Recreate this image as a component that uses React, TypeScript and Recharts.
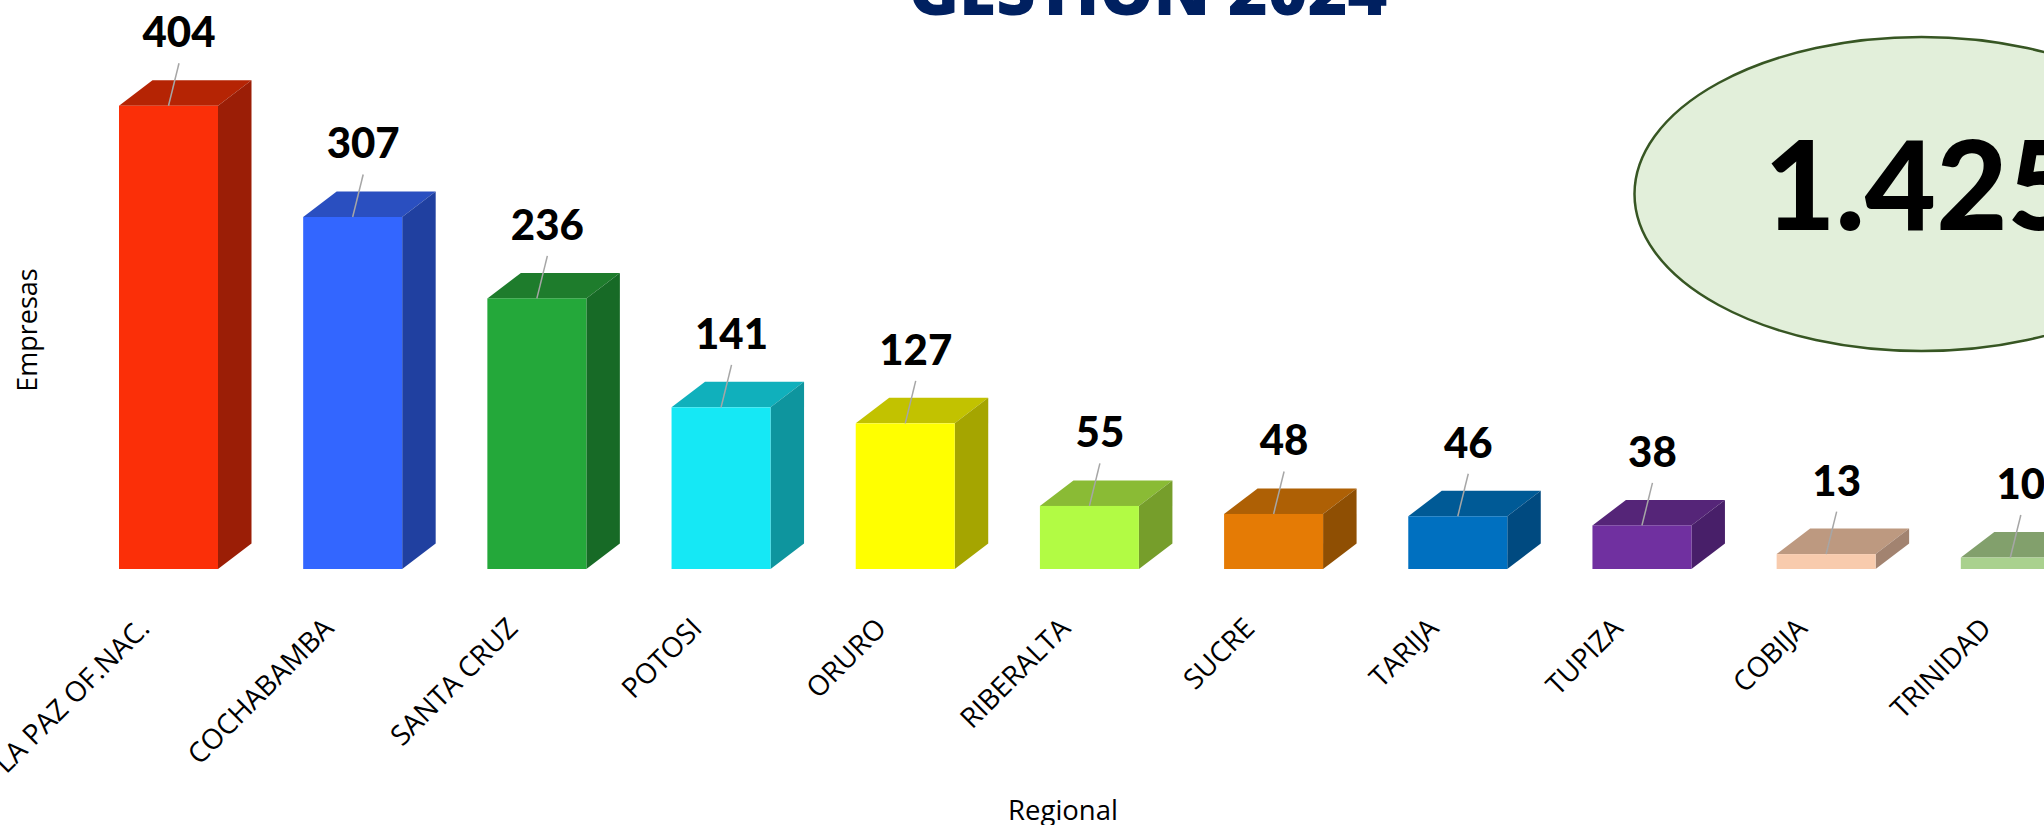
import React from 'react';
import { BarChart, Bar, XAxis, YAxis, LabelList, Cell, Customized } from 'recharts';

const categories = ['LA PAZ OF.NAC.', 'COCHABAMBA', 'SANTA CRUZ', 'POTOSI', 'ORURO', 'RIBERALTA', 'SUCRE', 'TARIJA', 'TUPIZA', 'COBIJA', 'TRINIDAD'];
const empresas = [404, 307, 236, 141, 127, 55, 48, 46, 38, 13, 10];
const frontColors = ['#FB2F08', '#3366FF', '#24A83A', '#15E8F5', '#FFFF00', '#B2FB44', '#E57B05', '#0070C0', '#7030A0', '#F8CBAD', '#A9D18E'];
const topColors = ['#B52404', '#2A4FC0', '#1E7C2C', '#10B0BC', '#C2C200', '#8ABB35', '#AE6005', '#005A96', '#552578', '#BD9980', '#82A06C'];
const sideColors = ['#9B1E06', '#2040A0', '#176A26', '#0E959E', '#A5A500', '#769E2B', '#8F4F03', '#004A80', '#481F69', '#A28370', '#6F895C'];
const total = '1.425';
const titleText = 'GESTION 2024';

const rows = categories.map((name, i) => ({ name, value: empresas[i], i }));

const OFFSET_TOP = 60;
const DX = 33.5;
const DY = 25.5;

function Cube(props: any) {
  const { x, y, width, height, payload } = props;
  const i = payload.i;
  const r = x + width;
  const b = y + height;
  return (
    <g>
      <path d={`M${x},${y} L${x + DX},${y - DY} L${r + DX},${y - DY} L${r},${y} Z`} fill={topColors[i]} />
      <path d={`M${r},${y} L${r + DX},${y - DY} L${r + DX},${b - DY} L${r},${b} Z`} fill={sideColors[i]} />
      <rect x={x} y={y} width={width} height={height} fill={frontColors[i]} />
    </g>
  );
}

function ValueLabel(props: any) {
  const { x, y, width, value } = props;
  const cx = x + width / 2;
  return (
    <g>
      <line x1={cx} y1={y} x2={cx + 10.5} y2={y - 42.5} stroke="#A6A6A6" strokeWidth={1.5} />
      <text x={cx + 10.5} y={y - 58.5} textAnchor="middle" fontFamily="Lato" fontWeight={900} fontSize={42} fill="#000">{value}</text>
    </g>
  );
}

function XTick(props: any) {
  const { x, y, payload } = props;
  const tx = x - 17;
  const ty = y + 55;
  return (
    <text
      x={tx}
      y={ty}
      textAnchor="end"
      transform={`rotate(-45 ${tx} ${ty})`}
      fontFamily="Open Sans"
      fontSize={28}
      fill="#000"
    >{payload.value}</text>
  );
}

function Decor() {
  return (
    <g>
      <text x={1148} y={15 + OFFSET_TOP} textAnchor="middle" fontFamily="Open Sans" fontWeight={800} fontSize={68} fill="#002060">{titleText}</text>
      <ellipse cx={1921.5} cy={194 + OFFSET_TOP} rx={287} ry={157} fill="#E2EFDA" stroke="#375623" strokeWidth={2.5} />
      <text x={1921.5} y={230 + OFFSET_TOP} textAnchor="middle" fontFamily="Lato" fontWeight={900} fontSize={123} fill="#000">{total}</text>
      <text x={1063} y={820 + OFFSET_TOP} textAnchor="middle" fontFamily="Open Sans" fontSize={27.5} fill="#000">Regional</text>
      <text transform={`translate(37 ${330 + OFFSET_TOP}) rotate(-90)`} textAnchor="middle" fontFamily="Open Sans" fontSize={27} fill="#000">Empresas</text>
    </g>
  );
}

export default function App() {
  return (
    <div style={{ position: 'fixed', left: 0, top: 0, width: 2044, height: 825, overflow: 'hidden', background: '#fff' }}>
      <div style={{ position: 'absolute', left: 0, top: -OFFSET_TOP }}>
        <BarChart
          width={2112}
          height={885}
          data={rows}
          barSize={99}
          margin={{ top: 113, right: 10, bottom: 0, left: 76 }}
        >
          <XAxis dataKey="name" axisLine={false} tickLine={false} interval={0} tick={<XTick />} height={256} tickMargin={0} />
          <YAxis hide domain={[0, 450]} />
          <Bar dataKey="value" shape={<Cube />} isAnimationActive={false}>
            {rows.map((r) => <Cell key={r.name} />)}
            <LabelList dataKey="value" content={<ValueLabel />} />
          </Bar>
          <Customized component={<Decor />} />
        </BarChart>
      </div>
    </div>
  );
}
